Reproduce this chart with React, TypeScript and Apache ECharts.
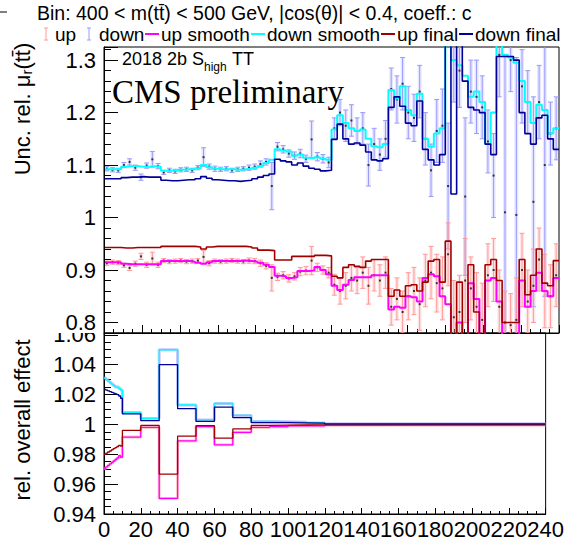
import React, { useEffect, useRef } from "react";
import * as echarts from "echarts";

// ---------- data (top panel, 80 bins of width 3 on 0..240) ----------
const BIN_WIDTH = 3;

const downPoints = [
  1.093, 1.091, 1.090, 1.100, 1.106, 1.095, 1.077, 1.099, 1.111, 1.098,
  1.086, 1.090, 1.088, 1.091, 1.092, 1.090, 1.095, 1.115, 1.097, 1.093,
  1.092, 1.093, 1.090, 1.092, 1.093, 1.095, 1.097, 1.102, 1.106, 1.060,
  1.135, 1.130, 1.122, 1.118, 1.122, 1.112, 1.149, 1.116, 1.112, 1.105,
  1.170, 1.200, 1.175, 1.185, 1.165, 1.170, 1.100, 1.140, 1.120, 1.150,
  1.245, 1.225, 1.255, 1.200, 1.190, 1.240, 1.150, 1.090, 1.165, 1.175,
  1.060, 1.300, 1.280, 1.040, 1.240, 1.230, 1.210, 1.145, 1.080, 1.310,
  1.010, 1.300, 1.005, 1.250, 1.220, 1.030, 1.220, 1.100, 1.160, 1.170,
];
const downErrors = [
  0.004, 0.004, 0.004, 0.005, 0.006, 0.005, 0.006, 0.005, 0.015, 0.005,
  0.004, 0.004, 0.004, 0.004, 0.004, 0.004, 0.004, 0.018, 0.005, 0.005,
  0.004, 0.004, 0.004, 0.004, 0.004, 0.005, 0.005, 0.006, 0.006, 0.045,
  0.008, 0.007, 0.007, 0.007, 0.008, 0.007, 0.035, 0.008, 0.008, 0.010,
  0.020, 0.025, 0.030, 0.030, 0.025, 0.030, 0.040, 0.030, 0.030, 0.035,
  0.040, 0.045, 0.050, 0.050, 0.045, 0.050, 0.050, 0.050, 0.060, 0.070,
  0.120, 0.080, 0.070, 0.150, 0.060, 0.070, 0.060, 0.060, 0.080, 0.080,
  0.300, 0.060, 0.300, 0.070, 0.060, 0.200, 0.070, 0.250, 0.060, 0.060,
];
const upPoints = [
  0.913, 0.915, 0.914, 0.909, 0.904, 0.912, 0.926, 0.910, 0.922, 0.910,
  0.918, 0.916, 0.917, 0.918, 0.916, 0.917, 0.918, 0.925, 0.913, 0.917,
  0.916, 0.917, 0.918, 0.917, 0.916, 0.918, 0.917, 0.913, 0.908, 0.885,
  0.887, 0.890, 0.884, 0.888, 0.897, 0.899, 0.918, 0.905, 0.900, 0.895,
  0.872, 0.860, 0.870, 0.885, 0.880, 0.895, 0.870, 0.890, 0.880, 0.895,
  0.830, 0.845, 0.820, 0.850, 0.860, 0.835, 0.880, 0.895, 0.875, 0.865,
  0.930, 0.810, 0.820, 0.880, 0.865, 0.830, 0.805, 0.890, 0.900, 0.830,
  0.800, 0.795, 0.805, 0.900, 0.840, 0.870, 0.920, 0.860, 0.850, 0.890,
];
const upErrors = [
  0.004, 0.004, 0.004, 0.004, 0.005, 0.005, 0.006, 0.005, 0.012, 0.005,
  0.004, 0.004, 0.004, 0.004, 0.004, 0.004, 0.004, 0.012, 0.005, 0.004,
  0.004, 0.004, 0.004, 0.004, 0.004, 0.005, 0.005, 0.006, 0.006, 0.025,
  0.007, 0.007, 0.007, 0.007, 0.008, 0.008, 0.027, 0.008, 0.008, 0.010,
  0.020, 0.025, 0.025, 0.025, 0.025, 0.030, 0.035, 0.030, 0.030, 0.030,
  0.035, 0.040, 0.040, 0.045, 0.045, 0.050, 0.050, 0.050, 0.055, 0.060,
  0.060, 0.070, 0.070, 0.080, 0.060, 0.065, 0.070, 0.060, 0.060, 0.070,
  0.060, 0.060, 0.080, 0.070, 0.060, 0.070, 0.060, 0.070, 0.060, 0.060,
];
const downSmooth = [
  1.092, 1.092, 1.092, 1.097, 1.098, 1.098, 1.097, 1.097, 1.098, 1.097,
  1.089, 1.089, 1.089, 1.091, 1.092, 1.092, 1.094, 1.100, 1.096, 1.093,
  1.092, 1.092, 1.092, 1.091, 1.092, 1.093, 1.095, 1.098, 1.104, 1.110,
  1.130, 1.128, 1.126, 1.118, 1.120, 1.114, 1.113, 1.115, 1.112, 1.110,
  1.168, 1.195, 1.180, 1.170, 1.165, 1.168, 1.150, 1.136, 1.134, 1.140,
  1.243, 1.227, 1.250, 1.205, 1.195, 1.236, 1.150, 1.135, 1.160, 1.170,
  1.330, 1.300, 1.290, 1.270, 1.230, 1.240, 1.220, 1.140, 1.200, 1.330,
  1.310, 1.305, 1.295, 1.260, 1.220, 1.180, 1.215, 1.205, 1.160, 1.170,
];
const downFinal = [
  1.074, 1.074, 1.074, 1.076, 1.077, 1.077, 1.078, 1.077, 1.077, 1.077,
  1.071, 1.070, 1.070, 1.071, 1.072, 1.072, 1.074, 1.078, 1.075, 1.072,
  1.071, 1.070, 1.070, 1.069, 1.070, 1.071, 1.074, 1.077, 1.080, 1.083,
  1.111, 1.108, 1.106, 1.100, 1.104, 1.098, 1.094, 1.092, 1.089, 1.090,
  1.149, 1.178, 1.150, 1.140, 1.142, 1.138, 1.125, 1.110, 1.108, 1.112,
  1.210, 1.230, 1.212, 1.180, 1.175, 1.222, 1.130, 1.110, 1.100, 1.120,
  1.330, 1.045, 1.330, 1.260, 1.210, 1.205, 1.200, 1.140, 1.120, 1.307,
  1.307, 1.307, 1.300, 1.200, 1.160, 1.140, 1.190, 1.195, 1.150, 1.130,
];
const upSmooth = [
  0.915, 0.915, 0.915, 0.912, 0.911, 0.911, 0.911, 0.911, 0.911, 0.911,
  0.917, 0.917, 0.917, 0.917, 0.917, 0.916, 0.914, 0.912, 0.915, 0.917,
  0.917, 0.917, 0.917, 0.917, 0.918, 0.917, 0.916, 0.914, 0.910, 0.906,
  0.889, 0.888, 0.885, 0.886, 0.898, 0.898, 0.899, 0.906, 0.900, 0.892,
  0.870, 0.862, 0.872, 0.881, 0.886, 0.886, 0.886, 0.890, 0.890, 0.890,
  0.825, 0.830, 0.828, 0.850, 0.848, 0.840, 0.885, 0.892, 0.888, 0.850,
  0.835, 0.770, 0.800, 0.770, 0.875, 0.845, 0.770, 0.880, 0.885, 0.840,
  0.770, 0.770, 0.770, 0.880, 0.830, 0.860, 0.895, 0.860, 0.850, 0.885,
];
const upFinal = [
  0.943, 0.943, 0.943, 0.942, 0.942, 0.943, 0.943, 0.943, 0.943, 0.943,
  0.945, 0.945, 0.945, 0.945, 0.945, 0.945, 0.944, 0.940, 0.944, 0.945,
  0.945, 0.945, 0.945, 0.945, 0.945, 0.944, 0.942, 0.938, 0.938, 0.937,
  0.919, 0.919, 0.919, 0.926, 0.926, 0.926, 0.926, 0.928, 0.928, 0.927,
  0.888, 0.885, 0.905, 0.910, 0.907, 0.905, 0.917, 0.920, 0.920, 0.920,
  0.850, 0.862, 0.850, 0.870, 0.872, 0.860, 0.877, 0.917, 0.920, 0.877,
  0.955, 0.770, 0.877, 0.770, 0.910, 0.820, 0.770, 0.910, 0.920, 0.880,
  0.800, 0.800, 0.800, 0.920, 0.853, 0.890, 0.940, 0.875, 0.870, 0.918,
];

// ---------- data (bottom panel: relative overall effect) ----------
const effEdges = [0, 1, 2, 3, 4, 5, 6, 7, 8, 9, 10, 20, 30, 40, 50, 60, 70, 80, 90, 100, 110, 120, 240];
const effDownSmooth = [
  1.031, 1.030, 1.029, 1.028, 1.027, 1.026, 1.025, 1.025, 1.024, 1.023,
  1.008, 1.004, 1.050, 1.013, 1.003, 1.014, 1.006, 1.002, 1.0018, 1.0015, 1.001, 1.0005,
];
const effDownFinal = [
  1.0235, 1.023, 1.0225, 1.022, 1.0215, 1.021, 1.0205, 1.020, 1.019, 1.0175,
  1.007, 1.0025, 1.040, 1.0105, 1.002, 1.0115, 1.0045, 1.0012, 1.0012, 1.001, 1.0008, 1.0003,
];
const effUpSmooth = [
  0.9705, 0.9715, 0.9725, 0.9735, 0.9745, 0.9755, 0.9765, 0.9775, 0.979, 0.978,
  0.9915, 0.998, 0.9504, 0.9889, 0.9985, 0.9863, 0.9947, 0.998, 0.9985, 0.999, 0.999, 0.9995,
];
const effUpFinal = [
  0.980, 0.9808, 0.9815, 0.9822, 0.983, 0.9838, 0.9845, 0.9852, 0.986, 0.9855,
  0.996, 0.9993, 0.9667, 0.9921, 0.9992, 0.9908, 0.997, 0.9993, 0.9995, 0.9996, 0.9997, 0.9998,
];

const titleText = "Bin: 400 < m(tt\u0304) < 500 GeV, |cos(\u03b8)| < 0.4, coeff.: c";

// ---------- helpers ----------
const SANS = "'Liberation Sans', Arial, Helvetica, sans-serif";
const SERIF = "'Liberation Serif', 'Times New Roman', serif";

const C_MAGENTA = "#ff00ff";
const C_CYAN = "#00ffff";
const C_DRED = "#a00000";
const C_NAVY = "#000099";
const C_UPBAR = "#ff9a9a";
const C_DOWNBAR = "#9a9aff";

function stepData(edges: number[], values: number[]) {
  const d = values.map((v, i) => [edges[i], v]);
  d.push([edges[values.length], values[values.length - 1]]);
  return d;
}

function errRender(bar: string, box: string) {
  return (params: any, api: any) => {
    const x = api.value(0);
    const y = api.value(1);
    const e = api.value(2);
    const c = api.coord([x, y]);
    const hi = api.coord([x, y + e]);
    const lo = api.coord([x, y - e]);
    const l = api.coord([x - BIN_WIDTH * 0.35, y]);
    const r = api.coord([x + BIN_WIDTH * 0.35, y]);
    let by = hi[1];
    let bh = lo[1] - hi[1];
    if (bh < 4) {
      by = c[1] - 2;
      bh = 4;
    }
    const cap = 2.5;
    return {
      type: "group",
      children: [
        { type: "rect", shape: { x: l[0], y: by, width: r[0] - l[0], height: bh }, style: { fill: box } },
        { type: "line", shape: { x1: c[0], y1: hi[1], x2: c[0], y2: lo[1] }, style: { stroke: bar, lineWidth: 1 } },
        { type: "line", shape: { x1: c[0] - cap, y1: hi[1], x2: c[0] + cap, y2: hi[1] }, style: { stroke: bar, lineWidth: 1 } },
        { type: "line", shape: { x1: c[0] - cap, y1: lo[1], x2: c[0] + cap, y2: lo[1] }, style: { stroke: bar, lineWidth: 1 } },
        { type: "rect", shape: { x: c[0] - 1, y: c[1] - 1, width: 2, height: 2 }, style: { fill: "#333" } },
      ],
    };
  };
}

function stepLine(name: string, data: any[], color: string, width: number, gi: number, z: number) {
  return {
    name,
    type: "line",
    xAxisIndex: gi,
    yAxisIndex: gi,
    data,
    step: "end",
    symbol: "none",
    showSymbol: false,
    clip: true,
    silent: true,
    z,
    lineStyle: { color, width },
  };
}

function txt(text: string, x: number, y: number, size: number, extra: any = {}) {
  return {
    type: "text",
    x,
    y,
    silent: true,
    ...extra,
    style: {
      text,
      fontFamily: SANS,
      fontSize: size,
      fill: "#000",
      align: "left",
      verticalAlign: "middle",
      textAlign: "left",
      textVerticalAlign: "middle",
      ...(extra.style || {}),
    },
  };
}

function buildOption() {
  const edges = downPoints.map((_, i) => i * BIN_WIDTH).concat([downPoints.length * BIN_WIDTH]);
  const centers = downPoints.map((_, i) => i * BIN_WIDTH + BIN_WIDTH / 2);

  const axisLabel = { fontFamily: SANS, fontSize: 22, color: "#000" };
  const axisLine = { show: true, lineStyle: { color: "#000", width: 1 } };
  const fmt = (v: number) => String(Math.round(v * 100) / 100);

  const legendY = 34;
  const LF = 19;
  const errMarker = (x: number, color: string) => [
    { type: "line", silent: true, shape: { x1: x, y1: legendY - 6, x2: x, y2: legendY + 6 }, style: { stroke: color, lineWidth: 1 } },
    { type: "line", silent: true, shape: { x1: x - 2, y1: legendY - 6, x2: x + 2, y2: legendY - 6 }, style: { stroke: color, lineWidth: 1 } },
    { type: "line", silent: true, shape: { x1: x - 2, y1: legendY + 6, x2: x + 2, y2: legendY + 6 }, style: { stroke: color, lineWidth: 1 } },
  ];
  const lineMarker = (x1: number, x2: number, color: string) => ({
    type: "line",
    silent: true,
    shape: { x1, y1: legendY, x2, y2: legendY },
    style: { stroke: color, lineWidth: 2 },
  });

  return {
    animation: false,
    backgroundColor: "#fff",
    grid: [
      { left: 104, top: 47, width: 455, height: 286, show: true, borderColor: "#000", borderWidth: 1, backgroundColor: "transparent" },
      { left: 104, top: 333, width: 455, height: 186, show: true, borderColor: "#000", borderWidth: 1, backgroundColor: "transparent" },
    ],
    xAxis: [
      {
        type: "value", gridIndex: 0, min: 0, max: 240, interval: 20,
        axisLine, axisLabel: { show: false },
        axisTick: { inside: true, length: 8, lineStyle: { color: "#000" } },
        minorTick: { show: true, splitNumber: 4, length: 4, lineStyle: { color: "#000" } },
        splitLine: { show: false },
      },
      {
        type: "value", gridIndex: 1, min: 0, max: 240, interval: 20,
        axisLine, axisLabel: { ...axisLabel, margin: 4 },
        axisTick: { inside: true, length: 6, lineStyle: { color: "#000" } },
        minorTick: { show: true, splitNumber: 4, length: 3, lineStyle: { color: "#000" } },
        splitLine: { show: false },
      },
    ],
    yAxis: [
      {
        type: "value", gridIndex: 0, min: 0.78, max: 1.325, splitNumber: 5, z: 10,
        axisLine,
        axisLabel: { ...axisLabel, margin: 8, formatter: fmt },
        axisTick: { inside: true, length: 14, lineStyle: { color: "#000" } },
        minorTick: { show: true, splitNumber: 5, length: 7, lineStyle: { color: "#000" } },
        splitLine: { show: false },
      },
      {
        type: "value", gridIndex: 1, min: 0.94, max: 1.0612, interval: 0.02, z: 1,
        axisLine,
        axisLabel: { ...axisLabel, margin: 8, formatter: fmt },
        axisTick: { inside: true, length: 14, lineStyle: { color: "#000" } },
        minorTick: { show: true, splitNumber: 4, length: 7, lineStyle: { color: "#000" } },
        splitLine: { show: false },
      },
    ],
    series: [
      {
        name: "down", type: "custom", xAxisIndex: 0, yAxisIndex: 0, clip: true, silent: true, z: 2,
        renderItem: errRender(C_DOWNBAR, "rgba(130,130,255,0.2)"),
        encode: { x: 0, y: 1 },
        data: downPoints.map((v, i) => [centers[i], v, downErrors[i]]),
      },
      {
        name: "up", type: "custom", xAxisIndex: 0, yAxisIndex: 0, clip: true, silent: true, z: 2,
        renderItem: errRender(C_UPBAR, "rgba(255,130,130,0.2)"),
        encode: { x: 0, y: 1 },
        data: upPoints.map((v, i) => [centers[i], v, upErrors[i]]),
      },
      stepLine("up smooth", stepData(edges, upSmooth), C_MAGENTA, 2, 0, 3),
      stepLine("down smooth", stepData(edges, downSmooth), C_CYAN, 2, 0, 3),
      stepLine("up final", stepData(edges, upFinal), C_DRED, 1.6, 0, 4),
      stepLine("down final", stepData(edges, downFinal), C_NAVY, 1.6, 0, 4),

      stepLine("up (effect)", stepData(effEdges, effUpSmooth), "rgba(255,160,160,0.6)", 3, 1, 2),
      stepLine("down (effect)", stepData(effEdges, effDownSmooth), "rgba(160,160,255,0.6)", 3, 1, 2),
      stepLine("up smooth (effect)", stepData(effEdges, effUpSmooth), C_MAGENTA, 1.3, 1, 3),
      stepLine("down smooth (effect)", stepData(effEdges, effDownSmooth), C_CYAN, 1.3, 1, 3),
      stepLine("up final (effect)", stepData(effEdges, effUpFinal), C_DRED, 1.3, 1, 4),
      stepLine("down final (effect)", stepData(effEdges, effDownFinal), C_NAVY, 1.3, 1, 4),
    ],
    graphic: [
      { type: "line", silent: true, shape: { x1: 0, y1: 12, x2: 7, y2: 12 }, style: { stroke: "#000", lineWidth: 1 } },
      txt(titleText, 37, 13, 19.5),
      ...errMarker(46, C_UPBAR),
      txt("up", 55, legendY, LF),
      ...errMarker(89, C_DOWNBAR),
      txt("down", 99, legendY, LF),
      lineMarker(145, 159, C_MAGENTA),
      txt("up smooth", 161, legendY, LF),
      lineMarker(251, 265, C_CYAN),
      txt("down smooth", 267, legendY, LF),
      lineMarker(381, 395, C_DRED),
      txt("up final", 397, legendY, LF),
      lineMarker(459, 473, C_NAVY),
      txt("down final", 475, legendY, LF),

      txt("2018 2b S", 122, 59, 18),
      txt("high", 204, 67, 12),
      txt("TT", 232, 59, 18),
      {
        type: "text", x: 112, y: 92, silent: true,
        style: { text: "CMS preliminary", fontFamily: SERIF, fontSize: 33, fill: "#000", align: "left", verticalAlign: "middle", textAlign: "left", textVerticalAlign: "middle" },
      },

      // y titles
      {
        type: "text", x: 22, y: 109, rotation: Math.PI / 2, silent: true,
        style: {
          text: "{a|Unc. rel. \u03bc}{b|r}{a|(tt\u0304)}",
          align: "center", verticalAlign: "middle", textAlign: "center", textVerticalAlign: "middle",
          rich: {
            a: { fontFamily: SANS, fontSize: 22, fill: "#000", color: "#000" },
            b: { fontFamily: SANS, fontSize: 15, fill: "#000", color: "#000", verticalAlign: "bottom", padding: [8, 0, 0, 0] },
          },
        },
      },
      {
        type: "text", x: 22, y: 420, rotation: Math.PI / 2, silent: true,
        style: { text: "rel. overall effect", fontFamily: SANS, fontSize: 22, fill: "#000", align: "center", verticalAlign: "middle", textAlign: "center", textVerticalAlign: "middle" },
      },

      // the upper pad hides the top half of the lower pad's 1.06 label
      { type: "rect", silent: true, z: 5, shape: { x: 40, y: 310, width: 61, height: 23 }, style: { fill: "#fff" } },
    ],
  };
}

export default function App() {
  const ref = useRef<HTMLDivElement>(null);
  useEffect(() => {
    if (!ref.current) return;
    const chart = echarts.init(ref.current, null, { renderer: "svg" });
    chart.setOption(buildOption() as any);
    return () => chart.dispose();
  }, []);
  return (
    <div
      ref={ref}
      style={{ position: "fixed", left: 0, top: 0, width: 567, height: 540, background: "#fff" }}
    />
  );
}
